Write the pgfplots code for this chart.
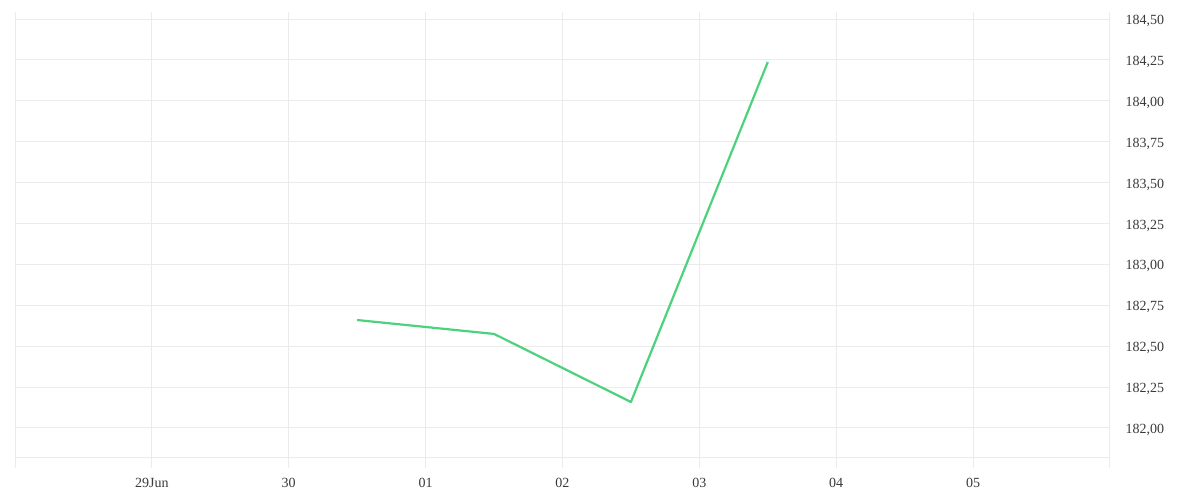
\documentclass[border=0pt]{standalone}
\usepackage{pgfplots}
\pgfplotsset{compat=1.18}
\usepackage{fontspec}
\setmainfont{Liberation Serif}
\definecolor{gridc}{HTML}{EBEBEB}
\definecolor{linec}{HTML}{4CD27C}
\definecolor{txt}{HTML}{3A3A3A}
\begin{document}
\begin{tikzpicture}[x=1pt,y=1pt]
\path[use as bounding box] (0,0) rectangle (1200,500);
\begin{axis}[
  at={(15pt,32pt)}, anchor=south west,
  scale only axis, width=1095pt, height=456pt,
  xmin=-1, xmax=7, ymin=181.7555, ymax=184.543,
  axis line style={draw=none},
  xtick={-1,0,1,2,3,4,5,6,7},
  xticklabels={,29Jun,30,01,02,03,04,05,},
  ytick={181.817,182,182.25,182.5,182.75,183,183.25,183.5,183.75,184,184.25,184.5},
  yticklabels={,182{,}00,182{,}25,182{,}50,182{,}75,183{,}00,183{,}25,183{,}50,183{,}75,184{,}00,184{,}25,184{,}50},
  yticklabel pos=right,
  grid=major,
  major grid style={gridc, line width=1pt},
  major tick length=0pt,
  tick style={draw=none},
  tick label style={font=\fontsize{14}{16}\selectfont, text=txt},
  xticklabel style={yshift=-7pt},
  yticklabel style={anchor=west, xshift=12pt, yshift=-2pt},
  clip=false,
]
\addplot[linec, line width=2.2pt, line join=round] coordinates {
(1.5,182.66) (2.5,182.575) (3.5,182.159) (4.5,184.237)
};
\end{axis}
\end{tikzpicture}
\end{document}
